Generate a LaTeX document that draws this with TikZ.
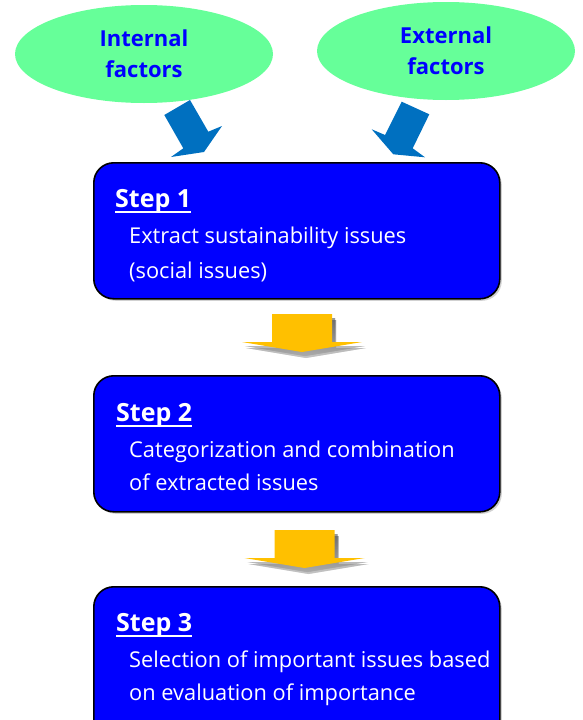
\documentclass[tikz,border=0pt]{standalone}
\usepackage{fontspec}
\setmainfont{Open Sans}
\usetikzlibrary{shapes.geometric,shadows}
\definecolor{leaf}{HTML}{66FF99}
\definecolor{stepblue}{HTML}{0000FF}
\definecolor{arrowblue}{HTML}{0070C0}
\definecolor{amber}{HTML}{FFC000}
\definecolor{shade}{HTML}{8C96AA}
\begin{document}
\begin{tikzpicture}[x=1pt,y=-1pt,
  factor/.style={ellipse, fill=leaf, draw=none, inner sep=0pt,
    minimum width=258pt, minimum height=98pt, text=blue,
    font=\bfseries\fontsize{22}{31}\selectfont, align=center},
  stepbox/.style={rectangle, rounded corners=20pt, draw=black, line width=1.6pt,
    fill=stepblue, minimum width=406pt, minimum height=136pt, anchor=north west,
    inner sep=0pt, drop shadow={shadow xshift=2pt, shadow yshift=-2pt, fill=gray!60, opacity=0.6}},
  steptitle/.style={anchor=base west, inner sep=0pt, text=white,
    font=\bfseries\fontsize{25}{28}\selectfont},
  steptext/.style={anchor=base west, inner sep=0pt, text=white,
    font=\fontsize{21.8}{26}\selectfont},
  titlerule/.style={draw=white, line width=1.8pt},
  blockarrow/.style={fill=arrowblue, draw=none},
  downarrow/.pic={
    \fill[shade, opacity=0.35] (-26,6) -- (34,6) -- (34,34) -- (64,34) -- (4,44) -- (-56,34) -- (-26,34) -- cycle;
    \fill[shade, opacity=0.35] (-27,4) -- (33,4) -- (33,32) -- (63,32) -- (3,42) -- (-57,32) -- (-27,32) -- cycle;
    \fill[amber] (-30,0) -- (30,0) -- (30,28) -- (60,28) -- (0,38) -- (-60,28) -- (-30,28) -- cycle;
  }]
\useasboundingbox (0,0) rectangle (582,720);
\clip (0,0) rectangle (582,720);

% factor ellipses
\node[factor] (internal) at (144,54) {Internal\\factors};
\node[factor] (external) at (446,51) {External\\factors};

% slanted block arrows from the factors
\path[blockarrow] (164.3,115) -- (190,100) -- (208.3,131.7) -- (222,126)
  -- (204,152) -- (171,157) -- (183.3,148.3) -- cycle;
\path[blockarrow] (401.7,101.7) -- (429.3,114.3) -- (412.7,148.3) -- (425,157.3)
  -- (393.3,154.3) -- (371.7,129.3) -- (385,135) -- cycle;

% step boxes
\node[stepbox] (b1) at (93,162) {};
\node[stepbox] (b2) at (93,375) {};
\node[stepbox, minimum height=160pt] (b3) at (93,586) {};

% box texts
\node[steptitle] (t1) at ([shift={(22,45)}]b1.north west) {Step 1};
\draw[titlerule] ([yshift=-5pt]t1.base west) -- ([yshift=-5pt]t1.base east);
\node[steptext] (l1a) at ([shift={(36,81)}]b1.north west) {Extract sustainability issues};
\node[steptext] (l1b) at ([shift={(36,116)}]b1.north west) {(social issues)};

\node[steptitle] (t2) at ([shift={(23,46)}]b2.north west) {Step 2};
\draw[titlerule] ([yshift=-5pt]t2.base west) -- ([yshift=-5pt]t2.base east);
\node[steptext] (l2a) at ([shift={(36,82)}]b2.north west) {Categorization and combination};
\node[steptext] (l2b) at ([shift={(36,115)}]b2.north west) {of extracted issues};

\node[steptitle] (t3) at ([shift={(23,45)}]b3.north west) {Step 3};
\draw[titlerule] ([yshift=-5pt]t3.base west) -- ([yshift=-5pt]t3.base east);
\node[steptext] (l3a) at ([shift={(36,81)}]b3.north west) {Selection of important issues based};
\node[steptext] (l3b) at ([shift={(36,114)}]b3.north west) {on evaluation of importance};

% yellow arrows between steps
\pic at (302,314) {downarrow};
\pic at (304.5,530) {downarrow};
\end{tikzpicture}
\end{document}
